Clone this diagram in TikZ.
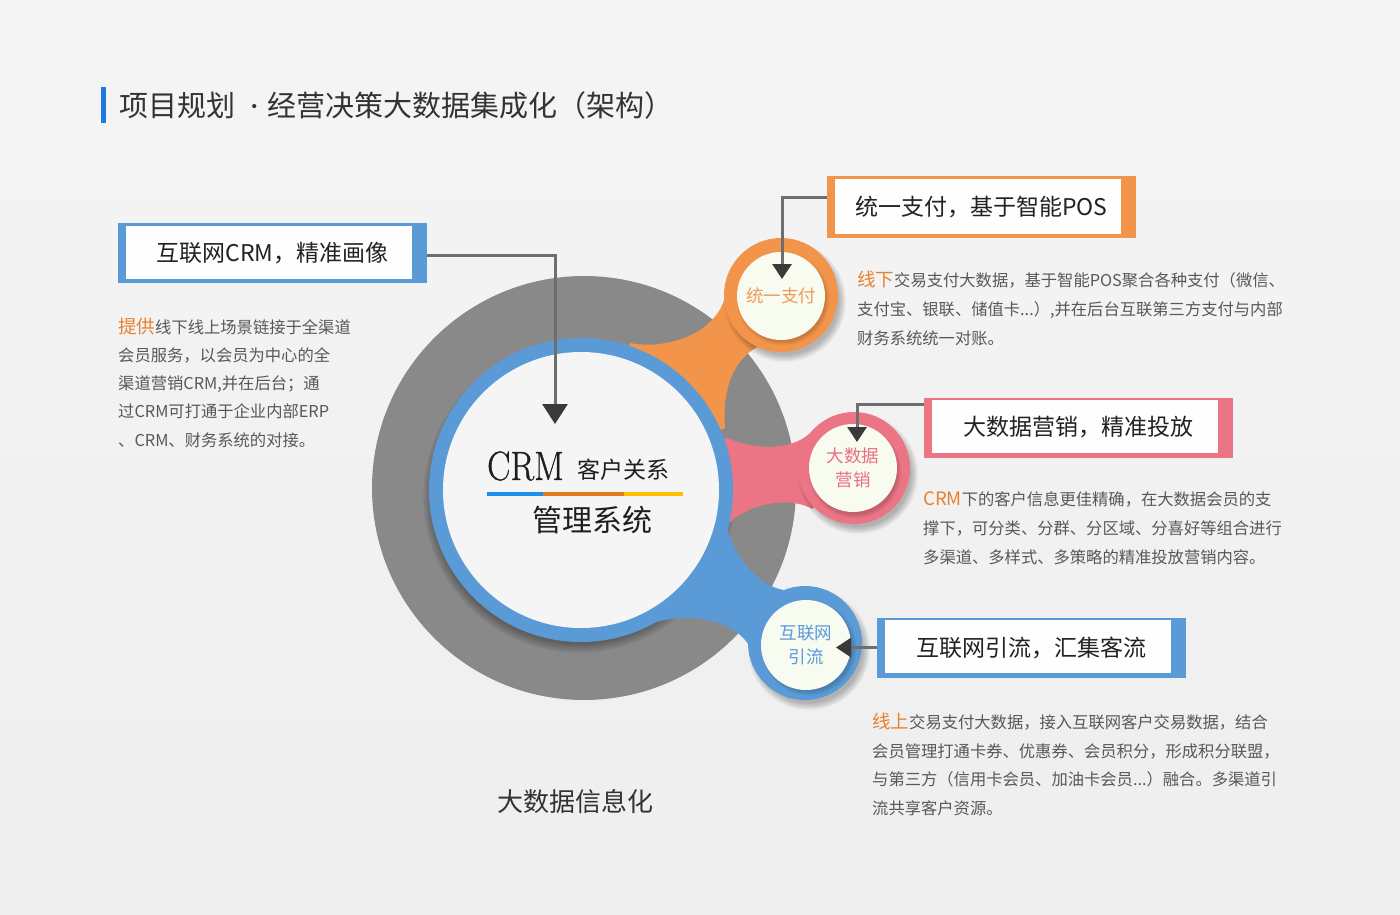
\documentclass[tikz,border=0pt]{standalone}
\usepackage{fontspec}
\newfontfamily\cjk{Noto Sans CJK SC}
\newfontfamily\crmfont{Latin Modern Roman}[FakeBold=0.9]
\usetikzlibrary{arrows.meta,calc}
\definecolor{bgtop}{HTML}{F6F5F6}
\definecolor{bgbot}{HTML}{EFEEEF}
\definecolor{titleblue}{HTML}{1F7AE0}
\definecolor{titletext}{HTML}{333333}
\definecolor{ringgray}{HTML}{898989}
\definecolor{ringblue}{HTML}{5A9AD7}
\definecolor{orangeC}{HTML}{F2954B}
\definecolor{pinkC}{HTML}{EB7585}
\definecolor{cream}{HTML}{F7FBF0}
\definecolor{innerwhite}{HTML}{F6F5F6}
\definecolor{boxwhite}{HTML}{FEFEFE}
\definecolor{boxtext}{HTML}{222222}
\definecolor{desctext}{HTML}{585858}
\definecolor{hlorange}{HTML}{E8812C}
\definecolor{linegray}{HTML}{6E6E6E}
\definecolor{tipgray}{HTML}{3A3A3A}
\definecolor{orangeText}{HTML}{F29A55}
\definecolor{pinkText}{HTML}{EC6E80}
\definecolor{blueText}{HTML}{5A9AD7}
\definecolor{centertext}{HTML}{1E1E1E}
\definecolor{lineblue}{HTML}{1E8FEF}
\definecolor{lineorange}{HTML}{E07B20}
\definecolor{lineyellow}{HTML}{FFC000}
\newcommand\setfs[1]{\fontsize{#1pt}{#1pt}\selectfont}
\newcommand\hilite[1]{{\color{hlorange}\fontsize{18.5pt}{20pt}\selectfont #1}}
\newcommand\softshadow[4]{\foreach \k in {1,...,#4}{\fill[black,opacity=0.035] (#1,#2) circle[radius={#3-#4/2+\k}];}}
\begin{document}
\begin{tikzpicture}[x=1pt,y=-1pt,
  lbl/.style={inner sep=0pt},
  desc/.style={inner sep=0pt, anchor=base west, text=desctext, font=\cjk\setfs{16.3}},
  box/.style={minimum width=309pt, minimum height=60pt, inner sep=0pt, fill=#1,
    text=boxtext, font=\cjk\setfs{23},
    path picture={\fill[boxwhite] ([xshift=8pt,yshift=4.5pt]path picture bounding box.south west)
      rectangle ([xshift=-15pt,yshift=-2.5pt]path picture bounding box.north east);}},
  conn/.style={draw=linegray, line width=3pt},
  bigtip/.style={-{Triangle[length=20pt,width=25pt,color=tipgray]}},
  smalltip/.style={-{Triangle[length=15pt,width=19pt,color=tipgray]}},
  knob/.style={circle, inner sep=0pt, minimum size=114pt, fill=#1},
  core/.style={circle, inner sep=0pt, minimum size=88pt, fill=cream, align=center, font=\cjk\fontsize{17.5pt}{24pt}\selectfont}
]
% background
\shade[top color=bgtop, bottom color=bgbot] (0,0) rectangle (1400,915);
\useasboundingbox (0,0) rectangle (1400,915);

% title
\fill[titleblue] (101,87) rectangle (106,123);
\node[lbl, anchor=base west, font=\cjk\setfs{29}, text=titletext] (title) at (119,117) {项目规划 {\normalfont\bfseries ·}经营决策大数据集成化（架构）};

% big gray ring
\fill[ringgray] (584,488) circle[radius=212];
\foreach \k in {1,...,10}{\fill[black, opacity=0.03] (579,497) circle[radius={146+\k}];}

% necks
\fill[orangeC] (581,490) -- (630,343) .. controls (665,350) and (715,335) .. (725,297)
  -- (781,295) -- (757,347) .. controls (735,360) and (722,385) .. (725,428) -- cycle;
\fill[pinkC] (581,490) -- (727,438) .. controls (755,450) and (795,452) .. (814,429)
  -- (854,468) -- (812,509) .. controls (795,498) and (755,500) .. (730,522) -- cycle;
\fill[ringblue] (581,490) -- (728,532) .. controls (740,565) and (760,585) .. (783,590)
  -- (805,643) -- (750,647) .. controls (735,620) and (690,612) .. (657,622) -- cycle;

% blue ring and inner disc
\fill[ringblue] (581,490) circle[radius=152];
\fill[innerwhite] (581,490) circle[radius=138];

% small circles
\softshadow{785}{301}{57}{8}
\softshadow{858}{474}{56}{8}
\softshadow{809}{649}{57}{8}
\node[knob=orangeC] (k1) at (781,295) {};
\node[knob=pinkC, minimum size=112pt] (k2) at (854,468) {};
\node[knob=ringblue] (k3) at (805,643) {};
\softshadow{783}{299}{44}{5}
\softshadow{855}{472}{44}{5}
\softshadow{809}{648}{45}{5}
\node[core, text=orangeText] (s1) at (781,296) {统一支付};
\node[core, text=pinkText] (s2) at (853,468) {大数据\\营销};
\node[core, text=blueText, minimum size=90pt] (s3) at (806,645) {互联网\\引流};

% center text
\node[lbl, anchor=base west, font=\crmfont\setfs{41}, text=centertext] (crm) at (487,480) {\scalebox{0.85}[1]{CRM}};
\node[lbl, anchor=base west, font=\cjk\setfs{23}, text=centertext] (crmb) at (577,478) {客户关系};
\fill[lineblue] (487,491.5) rectangle (543,495.5);
\fill[lineorange] (543,491.5) rectangle (624,495.5);
\fill[lineyellow] (624,491.5) rectangle (683,495.5);
\node[lbl, font=\cjk\setfs{30}, text=centertext] (crmc) at (592,520) {管理系统};

% boxes
\node[box=ringblue] (b1) at (272.5,253) {互联网CRM，精准画像};
\node[box=orangeC, minimum height=62pt] (b2) at (981.5,207) {统一支付，基于智能POS};
\node[box=pinkC] (b3) at (1078.5,427.5) {大数据营销，精准投放};
\node[box=ringblue] (b4) at (1031.5,647.5) {互联网引流，汇集客流};

% connectors
\coordinate (t1) at (555,424);
\coordinate (t2) at (782,279);
\coordinate (t3) at (857,442);
\coordinate (t4) at (836,647.5);
\draw[conn, bigtip] ([yshift=-2pt]b1.east) -| (t1);
\draw[conn, smalltip] ([yshift=10pt]b2.west) -| (t2);
\draw[conn, smalltip] ([yshift=23.5pt]b3.west) -| (t3);
\draw[conn, smalltip] (b4.west) -- (t4);

% left description
\node[desc] (l1) at (118,333) {\hilite{提供}线下线上场景链接于全渠道};
\node[desc] (l2) at (118,361.3) {会员服务，以会员为中心的全};
\node[desc] (l3) at (118,389.6) {渠道营销CRM,并在后台；通};
\node[desc] (l4) at (118,417.9) {过CRM可打通于企业内部ERP};
\node[desc] (l5) at (118,446.2) {、CRM、财务系统的对接。};

% right description 1
\node[desc] (r1a) at (857,286.3) {\hilite{线下}交易支付大数据，基于智能POS聚合各种支付（微信、};
\node[desc] (r1b) at (857,315.3) {支付宝、银联、储值卡...）,并在后台互联第三方支付与内部};
\node[desc] (r1c) at (857,344.3) {财务系统统一对账。};

% right description 2
\node[desc] (r2a) at (923,505.3) {\hilite{CRM}下的客户信息更佳精确，在大数据会员的支};
\node[desc] (r2b) at (923,534.3) {撑下，可分类、分群、分区域、分喜好等组合进行};
\node[desc] (r2c) at (923,563.3) {多渠道、多样式、多策略的精准投放营销内容。};

% right description 3
\node[desc] (r3a) at (872,728.3) {\hilite{线上}交易支付大数据，接入互联网客户交易数据，结合};
\node[desc] (r3b) at (872,757) {会员管理打通卡券、优惠券、会员积分，形成积分联盟，};
\node[desc] (r3c) at (872,785.7) {与第三方（信用卡会员、加油卡会员...）融合。多渠道引};
\node[desc] (r3d) at (872,814.4) {流共享客户资源。};

% bottom label
\node[lbl, font=\cjk\setfs{26}, text=titletext] (bottom) at (575,802) {大数据信息化};
\end{tikzpicture}
\end{document}
